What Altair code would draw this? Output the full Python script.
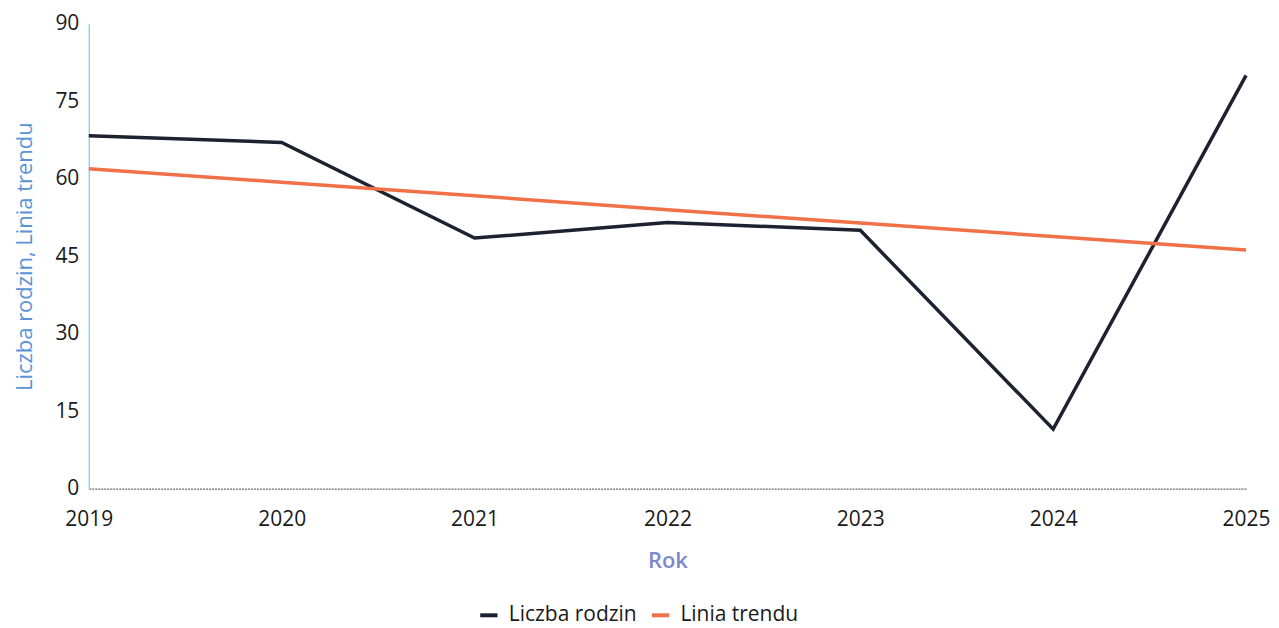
import altair as alt
import pandas as pd

years = [2019, 2020, 2021, 2022, 2023, 2024, 2025]
liczba_rodzin = [68.3, 67.0, 48.5, 51.5, 50.0, 11.5, 80.0]
linia_trendu = [61.9, 59.3, 56.7, 54.0, 51.4, 48.8, 46.2]
series_names = ["Liczba rodzin", "Linia trendu"]
series_colors = ["#1c2230", "#f07048"]
y_ticks = [0, 15, 30, 45, 60, 75, 90]

rows = []
for y, a, b in zip(years, liczba_rodzin, linia_trendu):
    rows.append({"Rok": y, "Seria": series_names[0], "Wartość": a})
    rows.append({"Rok": y, "Seria": series_names[1], "Wartość": b})
df = pd.DataFrame(rows)

FONT = "Open Sans"

chart = (
    alt.Chart(df)
    .mark_line(strokeWidth=3.5)
    .encode(
        x=alt.X(
            "Rok:Q",
            scale=alt.Scale(domain=[2019, 2025], nice=False, zero=False),
            axis=alt.Axis(
                values=years,
                format="d",
                title="Rok",
                grid=False,
                ticks=False,
                labelFlush=False,
                domainColor="#444444",
                domainWidth=1,
                domainDash=[2, 1],
                labelPadding=20,
                titlePadding=21,
                titleColor="#7d88c8",
                titleFontSize=22,
                titleFontWeight=600,
                labelFontSize=21,
                labelColor="#1a1a1a",
            ),
        ),
        y=alt.Y(
            "Wartość:Q",
            scale=alt.Scale(domain=[0, 90], nice=False),
            axis=alt.Axis(
                values=y_ticks,
                title="Liczba rodzin, Linia trendu",
                grid=False,
                ticks=False,
                domainColor="#8fd6ea",
                domainWidth=1.5,
                labelPadding=10,
                titlePadding=18,
                titleColor="#5a94d6",
                titleFontSize=22,
                titleFontWeight=400,
                labelFontSize=21,
                labelColor="#1a1a1a",
            ),
        ),
        color=alt.Color(
            "Seria:N",
            scale=alt.Scale(domain=series_names, range=series_colors),
            legend=alt.Legend(
                orient="none",
                legendX=390,
                legendY=582,
                direction="horizontal",
                title=None,
                symbolType="stroke",
                symbolStrokeWidth=4,
                symbolSize=300,
                labelFontSize=21,
                labelOffset=9,
                labelColor="#1a1a1a",
                columnPadding=6,
            ),
        ),
    )
    .properties(
        width=1160,
        height=466,
        padding={"left": 5, "top": 4, "right": 0, "bottom": 3},
    )
    .configure(font=FONT)
    .configure_view(stroke=None)
)

chart.save("out.html", embed_options={"renderer": "svg", "actions": False})
